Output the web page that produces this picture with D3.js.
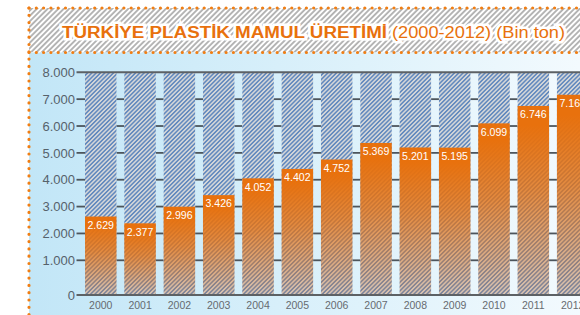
<!DOCTYPE html>
<html>
<head>
<meta charset="utf-8">
<script src="https://cdn.jsdelivr.net/npm/d3@7"></script>
<style>
  html, body { margin: 0; padding: 0; background: #fff; }
  svg { display: block; font-family: "Liberation Sans", Arial, sans-serif; }
</style>
</head>
<body>
<div id="chart"></div>
<script>
// data (Bin ton)
var years = ["2000", "2001", "2002", "2003", "2004", "2005", "2006", "2007", "2008", "2009", "2010", "2011", "2012"];
var production = [2629, 2377, 2996, 3426, 4052, 4402, 4752, 5369, 5201, 5195, 6099, 6746, 7164];
var yTicks = [0, 1000, 2000, 3000, 4000, 5000, 6000, 7000, 8000];
var titleBold = "TÜRKİYE PLASTİK MAMUL ÜRETİMİ";
var titleRest = "(2000-2012) (Bin ton)";

var width = 580, height = 315;
var frame = {left: 29, top: 8, band: 52.5};
var orange = "#e8710d";

var trLocale = d3.formatLocale({decimal: ",", thousands: ".", grouping: [3], currency: ["", " TL"]});
var fmt = trLocale.format(",d");

var svg = d3.select("#chart")
    .append("svg")
    .attr("width", width)
    .attr("height", height);

var defs = svg.append("defs");

// light blue background, fading to the right
var bg = defs.append("linearGradient").attr("id", "bgGrad")
    .attr("x1", 0).attr("y1", 0).attr("x2", 1).attr("y2", 0);
bg.append("stop").attr("offset", 0).attr("stop-color", "#c2e6f7");
bg.append("stop").attr("offset", 0.6).attr("stop-color", "#def2fb");
bg.append("stop").attr("offset", 1).attr("stop-color", "#f3fafe");

function hatch(id, size, paper, ink, lw) {
    var p = defs.append("pattern").attr("id", id)
        .attr("patternUnits", "userSpaceOnUse")
        .attr("width", size).attr("height", size)
        .attr("patternTransform", "rotate(45)");
    p.append("rect").attr("width", size).attr("height", size).attr("fill", paper);
    p.append("line").attr("x1", size / 2).attr("y1", 0).attr("x2", size / 2).attr("y2", size)
        .attr("stroke", ink).attr("stroke-width", lw);
}
hatch("titleHatch", 3.8, "#fff", "#5e5e5e", 0.9);   // behind the title
hatch("barHatch", 3.05, "#d3d6d9", "#2862b0", 1);   // empty bar part

// orange value part, fading downwards
var og = defs.append("linearGradient").attr("id", "valGrad")
    .attr("x1", 0).attr("y1", 0).attr("x2", 0).attr("y2", 1);
og.append("stop").attr("offset", 0).attr("stop-color", orange).attr("stop-opacity", 1);
og.append("stop").attr("offset", 0.1).attr("stop-color", orange).attr("stop-opacity", 1);
og.append("stop").attr("offset", 0.45).attr("stop-color", orange).attr("stop-opacity", 0.75);
og.append("stop").attr("offset", 1).attr("stop-color", orange).attr("stop-opacity", 0.18);

// panels
svg.append("rect")
    .attr("x", frame.left).attr("y", frame.top)
    .attr("width", width - frame.left).attr("height", frame.band - frame.top)
    .attr("fill", "url(#titleHatch)");
svg.append("rect")
    .attr("x", frame.left).attr("y", frame.band)
    .attr("width", width - frame.left).attr("height", height - frame.band)
    .attr("fill", "url(#bgGrad)");

// title
svg.append("text")
    .attr("x", 62).attr("y", 37.5)
    .attr("font-size", 16).attr("font-weight", "bold")
    .attr("fill", orange)
    .attr("stroke", "#fff").attr("stroke-width", 5).attr("paint-order", "stroke")
    .attr("textLength", 325).attr("lengthAdjust", "spacingAndGlyphs")
    .text(titleBold);
svg.append("text")
    .attr("x", 392).attr("y", 37.5)
    .attr("font-size", 16)
    .attr("fill", orange)
    .attr("stroke", "#fff").attr("stroke-width", 5).attr("paint-order", "stroke")
    .attr("textLength", 173).attr("lengthAdjust", "spacingAndGlyphs")
    .text(titleRest);

// dotted orange frame
var dots = svg.append("g")
    .attr("stroke", "#f07e14").attr("stroke-width", 3.2)
    .attr("stroke-linecap", "round").attr("stroke-dasharray", "0 7.3");
dots.append("line").attr("x1", frame.left).attr("y1", frame.top).attr("x2", width).attr("y2", frame.top);
dots.append("line").attr("x1", frame.left).attr("y1", frame.band).attr("x2", width).attr("y2", frame.band);
dots.append("line").attr("x1", frame.left).attr("y1", frame.top).attr("x2", frame.left).attr("y2", height);

// scales (the 0 tick sits lower than the linear 1000-step spacing, as in the picture)
var x = d3.scaleBand()
    .domain(years)
    .range([85, 588.4])
    .paddingInner(0.2)
    .paddingOuter(0)
    .align(0);

var y = d3.scaleLinear()
    .domain([0, 1000, 8000])
    .range([295, 260.3, 72.3]);

var axisX0 = 76.5;

// grid lines only show in the gaps between bars
var gaps = [[axisX0, x(years[0])]];
years.forEach((yr, i) => {
    var end = i + 1 < years.length ? x(years[i + 1]) : width;
    gaps.push([x(yr) + x.bandwidth(), end]);
});

svg.append("g")
    .selectAll("g")
    .data(yTicks.slice(1, -1))
    .enter()
    .append("g")
    .each(function(tick) {
        d3.select(this).selectAll("line")
            .data(gaps)
            .enter()
            .append("line")
            .attr("x1", g => g[0]).attr("x2", g => g[1])
            .attr("y1", y(tick)).attr("y2", y(tick))
            .attr("stroke", "#4d555c").attr("stroke-width", 1.8);
    });

// bars
var bars = svg.append("g")
    .selectAll("g")
    .data(production)
    .enter()
    .append("g")
    .attr("transform", (d, i) => `translate(${x(years[i])}, 0)`);

bars.append("rect")
    .attr("y", y(8000))
    .attr("width", x.bandwidth())
    .attr("height", y(0) - y(8000))
    .attr("fill", "url(#barHatch)");

bars.append("rect")
    .attr("y", d => y(d))
    .attr("width", x.bandwidth())
    .attr("height", d => y(0) - y(d))
    .attr("fill", "url(#valGrad)");

bars.append("text")
    .attr("x", x.bandwidth() / 2)
    .attr("y", d => y(d) + 12.3)
    .attr("text-anchor", "middle")
    .attr("font-size", 10.6)
    .attr("fill", "#fff")
    .text(d => fmt(d));

// top and bottom lines go over the bars
svg.append("g")
    .selectAll("line")
    .data([yTicks[0], yTicks[yTicks.length - 1]])
    .enter()
    .append("line")
    .attr("x1", axisX0).attr("x2", width)
    .attr("y1", d => y(d)).attr("y2", d => y(d))
    .attr("stroke", "#5c6165").attr("stroke-width", 2);

// y labels
svg.append("g")
    .selectAll("text")
    .data(yTicks)
    .enter()
    .append("text")
    .attr("x", 75)
    .attr("y", d => y(d))
    .attr("dy", "0.36em")
    .attr("text-anchor", "end")
    .attr("font-size", 13)
    .attr("fill", "#56626b")
    .text(d => fmt(d));

// x labels
svg.append("g")
    .selectAll("text")
    .data(years)
    .enter()
    .append("text")
    .attr("x", d => x(d) + x.bandwidth() / 2)
    .attr("y", 309)
    .attr("text-anchor", "middle")
    .attr("font-size", 10.5)
    .attr("fill", "#666b70")
    .text(d => d);
</script>
</body>
</html>
